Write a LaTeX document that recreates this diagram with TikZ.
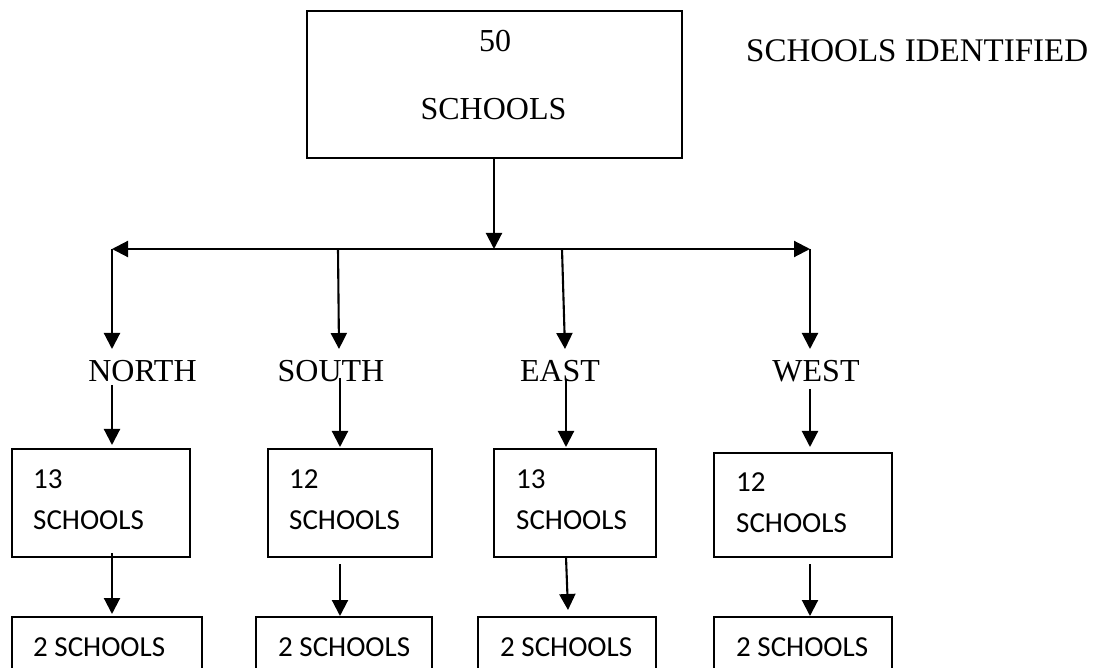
\documentclass[tikz,border=0pt]{standalone}
\usepackage{fontspec}
\setmainfont{Liberation Serif}
\newfontfamily\calibrifont{Carlito}
\usetikzlibrary{arrows.meta}
\begin{document}
\begin{tikzpicture}[x=1pt,y=-1pt,
  box/.style={draw, line width=2pt, inner sep=0pt, outer sep=0pt},
  arr/.style={line width=2.1pt, -{Triangle[length=16pt,width=16pt]}},
  tms/.style={font=\fontsize{32}{32}\selectfont, inner sep=0pt},
  cal/.style={font=\calibrifont\fontsize{29}{29}\selectfont, inner sep=0pt}]
\useasboundingbox (0,0) rectangle (1096,668);
\clip (0,0) rectangle (1096,668);
% top box
\node[box, minimum width=375pt, minimum height=147pt] (top) at (494.5,84.5) {};
\node[tms, anchor=base] (t50) at (495,52) {50};
\node[tms, anchor=base] (tsch) at (493.5,120) {SCHOOLS};
\node[tms, anchor=base west, font=\fontsize{33}{33}\selectfont] (ident) at (746,62) {SCHOOLS IDENTIFIED};
% horizontal distribution line
\coordinate (hm) at (494,249);
\coordinate (hl) at (112,249);
\coordinate (hr) at (810,249);
\draw[arr] (top.south -| hm) -- (hm);
\draw[arr] (hm) -- (hl);
\draw[arr] (hm) -- (hr);
% region labels
\node[tms, anchor=base] (north) at (142.5,382) {NORTH};
\node[tms, anchor=base] (south) at (331,382) {SOUTH};
\node[tms, anchor=base] (east) at (560,382) {EAST};
\node[tms, anchor=base] (west) at (816,382) {WEST};
% branch points on line and tips above labels
\coordinate (bN) at (112,249); \coordinate (tN) at (112,349);
\coordinate (bS) at (338,249); \coordinate (tS) at (339,349);
\coordinate (bE) at (562,249); \coordinate (tE) at (565,349);
\coordinate (bW) at (810,249); \coordinate (tW) at (810,349);
\draw[arr] (bN) -- (tN);
\draw[arr] (bS) -- (tS);
\draw[arr] (bE) -- (tE);
\draw[arr] (bW) -- (tW);
% mid boxes
\node[box, minimum width=178pt, minimum height=108pt] (mN) at (101,503) {};
\node[box, minimum width=164pt, minimum height=108pt] (mS) at (350,503) {};
\node[box, minimum width=162pt, minimum height=108pt] (mE) at (575,503) {};
\node[box, minimum width=178pt, minimum height=104pt] (mW) at (803,505) {};
\node[cal, anchor=base west] (mN1) at (33,488) {13};
\node[cal, anchor=base west] (mN2) at (33,529) {SCHOOLS};
\node[cal, anchor=base west] (mS1) at (289,488) {12};
\node[cal, anchor=base west] (mS2) at (289,529) {SCHOOLS};
\node[cal, anchor=base west] (mE1) at (516,488) {13};
\node[cal, anchor=base west] (mE2) at (516,529) {SCHOOLS};
\node[cal, anchor=base west] (mW1) at (736,491) {12};
\node[cal, anchor=base west] (mW2) at (736,532) {SCHOOLS};
% arrows label -> mid box
\coordinate (lN) at (112,385); \coordinate (aN) at (112,445);
\coordinate (lS) at (340,378); \coordinate (aS) at (340,447);
\coordinate (lE) at (566,380); \coordinate (aE) at (566,447);
\coordinate (lW) at (810,389); \coordinate (aW) at (810,447);
\draw[arr] (lN) -- (aN);
\draw[arr] (lS) -- (aS);
\draw[arr] (lE) -- (aE);
\draw[arr] (lW) -- (aW);
% bottom boxes
\node[box, minimum width=190pt, minimum height=100pt] (bbN) at (107,667) {};
\node[box, minimum width=176pt, minimum height=100pt] (bbS) at (344,667) {};
\node[box, minimum width=178pt, minimum height=100pt] (bbE) at (567,667) {};
\node[box, minimum width=178pt, minimum height=100pt] (bbW) at (803,667) {};
\node[cal, anchor=base west] (bN1) at (33,656) {2 SCHOOLS};
\node[cal, anchor=base west] (bS1) at (278,656) {2 SCHOOLS};
\node[cal, anchor=base west] (bE1) at (500,656) {2 SCHOOLS};
\node[cal, anchor=base west] (bW1) at (736,656) {2 SCHOOLS};
% arrows mid box -> bottom box
\coordinate (sN) at (112,553); \coordinate (eN) at (112,614);
\coordinate (sS) at (340,564); \coordinate (eS) at (340,616);
\coordinate (sE) at (566,557); \coordinate (eE) at (568,610);
\coordinate (sW) at (810,564); \coordinate (eW) at (810,616);
\draw[arr] (sN) -- (eN);
\draw[arr] (sS) -- (eS);
\draw[arr] (sE) -- (eE);
\draw[arr] (sW) -- (eW);
\end{tikzpicture}
\end{document}
